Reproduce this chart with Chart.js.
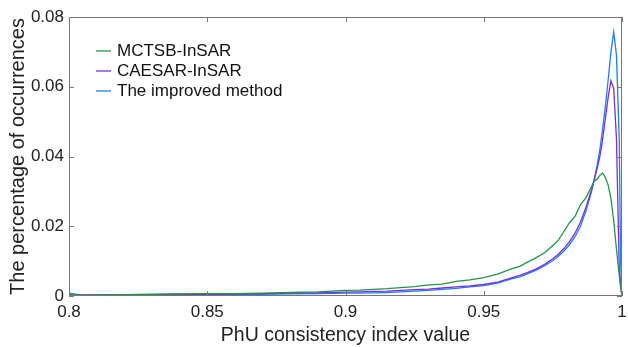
<!DOCTYPE html>
<html>
<head>
<meta charset="utf-8">
<script src="https://cdn.jsdelivr.net/npm/chart.js@4"></script>
<style>
  html, body { margin: 0; padding: 0; background: #fff; }
  #wrap { width: 628px; height: 347px; }
</style>
</head>
<body>
<div id="wrap"><canvas id="chart" width="628" height="347"></canvas></div>
<script>
// PhU consistency index (bin centres)
const xValues = [0.800, 0.805, 0.81, 0.82, 0.83, 0.84, 0.85, 0.86, 0.87, 0.88, 0.89,
  0.90, 0.905, 0.91, 0.915, 0.92, 0.925, 0.93, 0.935, 0.94, 0.945, 0.95, 0.955, 0.96,
  0.963, 0.966, 0.969, 0.972, 0.975, 0.977, 0.979, 0.981, 0.983, 0.985, 0.987, 0.989,
  0.990, 0.991, 0.992, 0.993, 0.994, 0.995, 0.996, 0.997, 0.998, 0.999, 0.9995, 1.000];

// percentage of occurrences per series
const mctsb = [0.0008, 0.0002, 0.0003, 0.0004, 0.0005, 0.0006, 0.0007, 0.0007, 0.0008, 0.0010, 0.0012,
  0.0016, 0.0017, 0.0019, 0.0021, 0.0024, 0.0027, 0.0032, 0.0034, 0.0042, 0.0046, 0.0053, 0.0063, 0.0078,
  0.0085, 0.0098, 0.0110, 0.0124, 0.0145, 0.0160, 0.0185, 0.0210, 0.0228, 0.0262, 0.0282, 0.0314,
  0.0330, 0.0335, 0.0346, 0.0353, 0.0340, 0.0318, 0.0280, 0.0215, 0.0135, 0.0060, 0.0025, 0.0];

const caesar = [0.0003, 0.0003, 0.0003, 0.0004, 0.0004, 0.0005, 0.0005, 0.0006, 0.0007, 0.0008, 0.0009,
  0.0011, 0.0012, 0.0013, 0.0014, 0.0016, 0.0018, 0.0020, 0.0023, 0.0026, 0.0029, 0.0033, 0.0040, 0.0052,
  0.0059, 0.0068, 0.0078, 0.0091, 0.0107, 0.0120, 0.0136, 0.0156, 0.0180, 0.0212, 0.0255, 0.0305,
  0.0335, 0.0365, 0.0400, 0.0450, 0.0510, 0.0570, 0.0617, 0.0595, 0.0450, 0.0080, 0.0030, 0.0];

const improved = [0.0002, 0.0002, 0.0002, 0.0003, 0.0003, 0.0004, 0.0004, 0.0005, 0.0005, 0.0006, 0.0007,
  0.0008, 0.0008, 0.0009, 0.0010, 0.0012, 0.0014, 0.0016, 0.0019, 0.0022, 0.0026, 0.0030, 0.0037, 0.0049,
  0.0055, 0.0064, 0.0074, 0.0087, 0.0102, 0.0114, 0.0129, 0.0147, 0.0170, 0.0200, 0.0245, 0.0300,
  0.0335, 0.0375, 0.0420, 0.0480, 0.0545, 0.0620, 0.0700, 0.0757, 0.0690, 0.0450, 0.0100, 0.0];

const seriesNames = ['MCTSB-InSAR', 'CAESAR-InSAR', 'The improved method'];
const seriesColors = ['#23934a', '#7b2fd0', '#1f7bff'];

const xTicks = [0.8, 0.85, 0.9, 0.95, 1];
const yTicks = [0, 0.02, 0.04, 0.06, 0.08];

const fontFamily = '"Liberation Sans", Arial, sans-serif';

function toPoints(ys) {
  return xValues.map((x, i) => ({ x: x, y: ys[i] }));
}

// box frame + inward ticks, MATLAB style
const framePlugin = {
  id: 'frame',
  afterDraw(chart) {
    const { ctx, chartArea: a, scales } = chart;
    ctx.save();
    ctx.strokeStyle = '#777';
    ctx.lineWidth = 1;
    ctx.strokeRect(a.left + 0.5, a.top + 0.5, a.right - a.left - 1, a.bottom - a.top - 1);
    ctx.beginPath();
    xTicks.forEach(v => {
      const px = Math.round(scales.x.getPixelForValue(v)) + 0.5;
      ctx.moveTo(px, a.bottom); ctx.lineTo(px, a.bottom - 5);
      ctx.moveTo(px, a.top); ctx.lineTo(px, a.top + 5);
    });
    yTicks.forEach(v => {
      const py = Math.round(scales.y.getPixelForValue(v)) + 0.5;
      ctx.moveTo(a.left, py); ctx.lineTo(a.left + 5, py);
      ctx.moveTo(a.right, py); ctx.lineTo(a.right - 5, py);
    });
    ctx.stroke();

    // legend inside the axes
    ctx.font = '17px ' + fontFamily;
    ctx.textBaseline = 'middle';
    ctx.fillStyle = '#111';
    seriesNames.forEach((name, i) => {
      const y = a.top + 34 + i * 20;
      ctx.strokeStyle = seriesColors[i];
      ctx.lineWidth = 1.3;
      ctx.beginPath();
      ctx.moveTo(a.left + 27, y); ctx.lineTo(a.left + 42, y);
      ctx.stroke();
      ctx.fillText(name, a.left + 48, y);
    });
    ctx.restore();
  }
};

new Chart(document.getElementById('chart'), {
  type: 'line',
  data: {
    datasets: [
      { label: seriesNames[0], data: toPoints(mctsb), borderColor: seriesColors[0] },
      { label: seriesNames[1], data: toPoints(caesar), borderColor: seriesColors[1] },
      { label: seriesNames[2], data: toPoints(improved), borderColor: seriesColors[2] }
    ]
  },
  options: {
    responsive: false,
    animation: false,
    layout: { padding: { top: 17, right: 6, left: 0, bottom: 0 } },
    elements: {
      point: { radius: 0 },
      line: { borderWidth: 1.3, tension: 0 }
    },
    plugins: {
      legend: { display: false },
      tooltip: { enabled: false }
    },
    scales: {
      x: {
        type: 'linear',
        min: 0.8,
        max: 1,
        afterBuildTicks: s => { s.ticks = xTicks.map(v => ({ value: v })); },
        afterFit: s => { s.height = 51; s.paddingLeft = 0; s.paddingRight = 0; },
        grid: { display: false, drawTicks: false },
        border: { display: false },
        ticks: {
          padding: 6,
          color: '#222',
          font: { family: fontFamily, size: 17 },
          callback: v => String(+v.toFixed(3))
        },
        title: {
          display: true,
          text: 'PhU consistency index value',
          color: '#222',
          font: { family: fontFamily, size: 19.5, lineHeight: 1.2 },
          padding: { top: 0, bottom: 0 }
        }
      },
      y: {
        min: 0,
        max: 0.08,
        afterBuildTicks: s => { s.ticks = yTicks.map(v => ({ value: v })); },
        afterFit: s => { s.width = 69; s.paddingTop = 0; s.paddingBottom = 0; },
        grid: { display: false, drawTicks: false },
        border: { display: false },
        ticks: {
          padding: 5,
          color: '#222',
          font: { family: fontFamily, size: 17 },
          callback: v => String(+v.toFixed(3))
        },
        title: {
          display: true,
          text: 'The percentage of occurrences',
          color: '#222',
          font: { family: fontFamily, size: 20, lineHeight: 1.2 },
          padding: { top: 6, bottom: 0 }
        }
      }
    }
  },
  plugins: [framePlugin]
});
</script>
</body>
</html>
